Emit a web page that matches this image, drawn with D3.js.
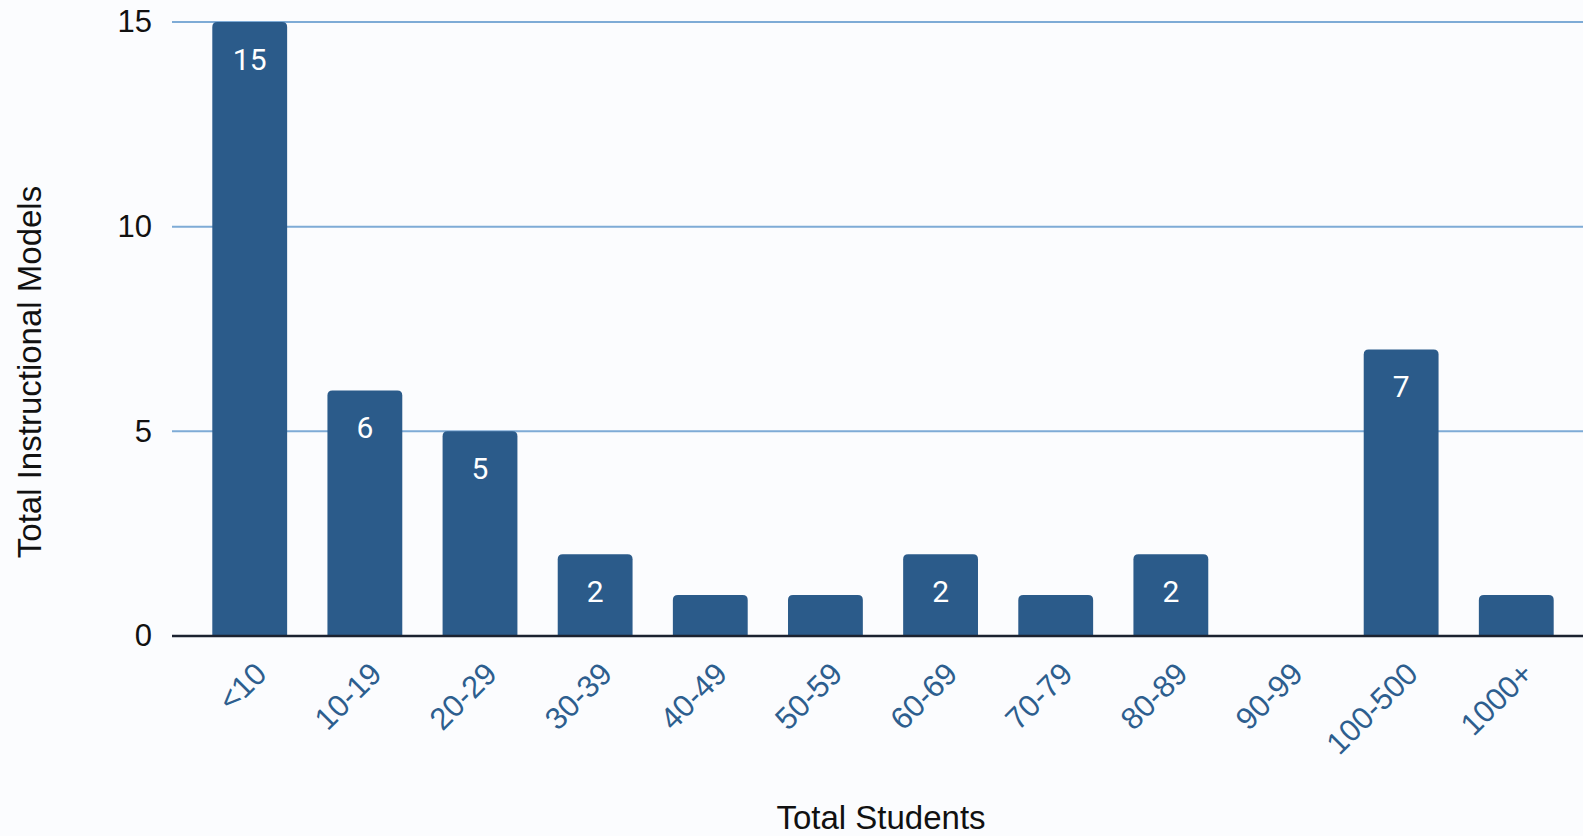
<!DOCTYPE html>
<html>
<head>
<meta charset="utf-8">
<script src="https://cdn.jsdelivr.net/npm/d3@7"></script>
<style>
  html, body { margin: 0; padding: 0; background: #fbfcfe; overflow: hidden; }
  svg { display: block; }
</style>
</head>
<body>
<svg width="1583" height="836"></svg>
<script>
// student size buckets and number of instructional models in each
var categories = ["<10", "10-19", "20-29", "30-39", "40-49", "50-59", "60-69", "70-79", "80-89", "90-99", "100-500", "1000+"];
var counts = [15, 6, 5, 2, 1, 1, 2, 1, 2, 0, 7, 1];
var yTicks = [0, 5, 10, 15];

var data = categories.map(function(c, i) {
    return { cat: c, value: counts[i] };
});

var svg = d3.select("svg"),
    margin = { top: 22, left: 172 },
    width = +svg.attr("width");

var x = d3.scaleBand()
    .domain(categories)
    .range([margin.left, 1594])
    .paddingInner(0.35)
    .paddingOuter(0.35);

var y = d3.scaleLinear()
    .domain([0, 15])
    .range([636, margin.top]);

// gridlines
svg.append("g")
    .selectAll("line")
    .data(yTicks.filter(function(d) { return d > 0; }))
    .enter().append("line")
    .attr("x1", margin.left)
    .attr("x2", width)
    .attr("y1", function(d) { return y(d); })
    .attr("y2", function(d) { return y(d); })
    .style("stroke", "#7eabd6")
    .style("stroke-width", 2);

// y axis labels
var yAxis = svg.append("g")
    .attr("transform", "translate(" + margin.left + ",0)")
    .call(d3.axisLeft(y).tickValues(yTicks).tickSize(0).tickPadding(20));
yAxis.select(".domain").remove();
yAxis.selectAll("text")
    .style("font", "31px 'Liberation Sans', Arial, sans-serif")
    .attr("fill", "#111");

// bars with rounded tops
var r = 5;
function barPath(d) {
    var x0 = x(d.cat), w = x.bandwidth(), y0 = y(d.value), y1 = y(0);
    if (d.value === 0) return "";
    return "M" + x0 + "," + y1 +
        "V" + (y0 + r) +
        "Q" + x0 + "," + y0 + " " + (x0 + r) + "," + y0 +
        "H" + (x0 + w - r) +
        "Q" + (x0 + w) + "," + y0 + " " + (x0 + w) + "," + (y0 + r) +
        "V" + y1 + "Z";
}
svg.append("g")
    .selectAll("path")
    .data(data)
    .enter().append("path")
    .attr("d", barPath)
    .style("fill", "#2b5b8a");

// value labels inside bars (only where they fit)
svg.append("g")
    .selectAll("text")
    .data(data.filter(function(d) { return d.value >= 2; }))
    .enter().append("text")
    .attr("x", function(d) { return x(d.cat) + x.bandwidth() / 2; })
    .attr("y", function(d) { return y(d.value) + 48; })
    .attr("text-anchor", "middle")
    .style("font", "30px Roboto, sans-serif")
    .style("fill", "#fff")
    .text(function(d) { return d.value; });

// baseline
svg.append("line")
    .attr("x1", margin.left)
    .attr("x2", width)
    .attr("y1", y(0))
    .attr("y2", y(0))
    .style("stroke", "#1b2230")
    .style("stroke-width", 2.5);

// x axis labels, rotated
var xAxis = svg.append("g")
    .attr("transform", "translate(0," + y(0) + ")")
    .call(d3.axisBottom(x).tickSize(0).tickPadding(0));
xAxis.select(".domain").remove();
xAxis.selectAll("text")
    .attr("transform", "translate(11,32) rotate(-45)")
    .attr("dy", "0.35em")
    .attr("y", 0)
    .style("text-anchor", "end")
    .style("font", "31px 'Liberation Sans', Arial, sans-serif")
    .attr("fill", "#2d5e8e");

// axis titles
svg.append("text")
    .attr("x", 881)
    .attr("y", 829)
    .attr("text-anchor", "middle")
    .style("font", "33px 'Liberation Sans', Arial, sans-serif")
    .style("fill", "#111")
    .text("Total Students");

svg.append("text")
    .attr("transform", "translate(41,372) rotate(-90)")
    .attr("text-anchor", "middle")
    .style("font", "33px 'Liberation Sans', Arial, sans-serif")
    .style("fill", "#111")
    .text("Total Instructional Models");
</script>
</body>
</html>
